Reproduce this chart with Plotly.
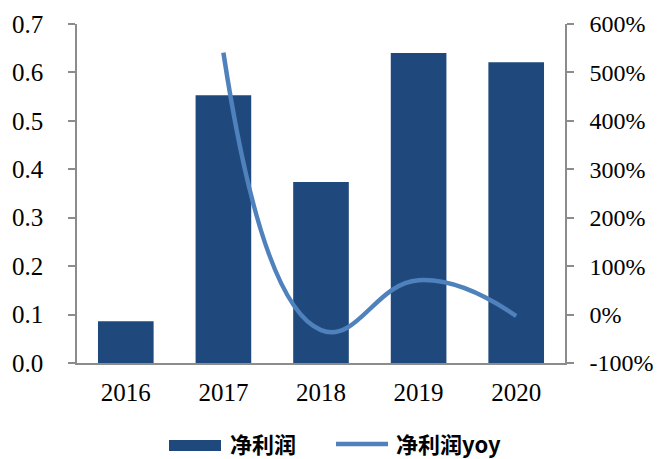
import plotly.graph_objects as go

# Net profit (left axis) and its year-over-year growth (right axis)
years = ["2016", "2017", "2018", "2019", "2020"]
net_profit = [0.086, 0.553, 0.374, 0.640, 0.621]
yoy = [None, 5.41, -0.32, 0.71, -0.03]

left_ticks = [0.0, 0.1, 0.2, 0.3, 0.4, 0.5, 0.6, 0.7]
left_labels = ["0.0", "0.1", "0.2", "0.3", "0.4", "0.5", "0.6", "0.7"]
right_ticks = [-1, 0, 1, 2, 3, 4, 5, 6]
right_labels = ["-100%", "0%", "100%", "200%", "300%", "400%", "500%", "600%"]

bar_name = "净利润"
line_name = "净利润yoy"

BAR_COLOR = "#1F497D"
LINE_COLOR = "#4F81BD"
AXIS_COLOR = "#8C8C8C"
SERIF = "Liberation Serif"
CJK = "Noto Sans CJK SC"

fig = go.Figure()
fig.add_trace(go.Bar(
    x=years, y=net_profit, name=bar_name,
    marker=dict(color=BAR_COLOR, line=dict(width=0)),
    yaxis="y", showlegend=False,
))
fig.add_trace(go.Scatter(
    x=years, y=yoy, name=line_name, mode="lines",
    line=dict(color=LINE_COLOR, width=4.5, shape="spline", smoothing=1.3),
    yaxis="y2", showlegend=False, connectgaps=False,
))

W, H = 657, 459
ml, mr, mt, mb = 77, 92, 24, 96
pw, ph = W - ml - mr, H - mt - mb


def px_x(p):
    return (p - ml) / pw


def px_y(p):
    return (H - mb - p) / ph


tick_font = dict(family=SERIF, size=25, color="black")
right_font = dict(family=SERIF, size=24, color="black")

fig.update_layout(
    width=W, height=H,
    margin=dict(l=ml, r=mr, t=mt, b=mb, pad=0),
    paper_bgcolor="white", plot_bgcolor="white",
    bargap=0.43,
    font=tick_font,
    xaxis=dict(
        type="category", showline=True, linecolor=AXIS_COLOR, linewidth=1.5,
        ticks="", showgrid=False, zeroline=False, automargin=False,
        tickfont=tick_font,
        ticklabelstandoff=6,
    ),
    yaxis=dict(
        range=[0, 0.7], tickvals=left_ticks, ticktext=left_labels,
        showline=True, linecolor=AXIS_COLOR, linewidth=1.5,
        ticks="outside", ticklen=7, tickcolor=AXIS_COLOR, tickwidth=1.5,
        showgrid=False, zeroline=False, automargin=False,
        tickfont=tick_font,
        ticklabelstandoff=20,
    ),
    yaxis2=dict(
        range=[-1, 6], tickvals=right_ticks, ticktext=right_labels,
        overlaying="y", side="right",
        showline=True, linecolor=AXIS_COLOR, linewidth=1.5,
        ticks="outside", ticklen=7, tickcolor=AXIS_COLOR, tickwidth=1.5,
        showgrid=False, zeroline=False, automargin=False,
        tickfont=right_font,
        ticklabelstandoff=11,
    ),
)

# Legend drawn below the plot: wide bar swatch and a line sample
legend_y = 443
fig.add_shape(type="rect", xref="paper", yref="paper",
              x0=px_x(169), x1=px_x(221), y0=px_y(451), y1=px_y(440),
              fillcolor=BAR_COLOR, line=dict(width=0))
fig.add_annotation(xref="paper", yref="paper", x=px_x(228), y=px_y(legend_y),
                   text=bar_name, showarrow=False, xanchor="left", yanchor="middle",
                   font=dict(family=CJK, size=22, color="black", weight="bold"))
fig.add_shape(type="line", xref="paper", yref="paper",
              x0=px_x(336), x1=px_x(388), y0=px_y(legend_y + 1), y1=px_y(legend_y + 1),
              line=dict(color=LINE_COLOR, width=4.5))
fig.add_annotation(xref="paper", yref="paper", x=px_x(394), y=px_y(legend_y),
                   text=line_name, showarrow=False, xanchor="left", yanchor="middle",
                   font=dict(family=CJK, size=22, color="black", weight="bold"))

fig.write_html("out.html")
